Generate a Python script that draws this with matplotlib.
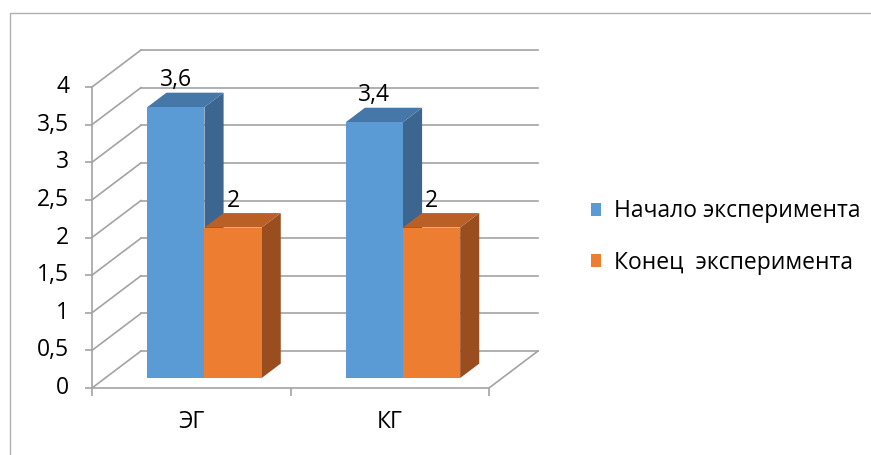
import matplotlib
matplotlib.use('Agg')
import matplotlib.pyplot as plt
from matplotlib.patches import Polygon, Patch
from matplotlib.lines import Line2D

categories = ['ЭГ', 'КГ']
series_names = ['Начало эксперимента', 'Конец  эксперимента']
start_values = [3.6, 3.4]
end_values = [2, 2]
value_labels_start = ['3,6', '3,4']
value_labels_end = ['2', '2']
y_ticks = [0, 0.5, 1, 1.5, 2, 2.5, 3, 3.5, 4]
y_tick_labels = ['0', '0,5', '1', '1,5', '2', '2,5', '3', '3,5', '4']

plt.rcParams['font.family'] = ['Open Sans', 'DejaVu Sans']

W, H, DPI = 871, 455, 100
fig = plt.figure(figsize=(W / DPI, H / DPI), dpi=DPI)
fig.patch.set_facecolor('white')

ax = fig.add_axes([92 / W, 1 - 388 / H, (489 - 92) / W, (388 - 87) / H])
ax.set_xlim(0, 2)
ax.set_ylim(0, 4)
ax.axis('off')

# depth projection (data units for full depth)
DXD = 49 / ((489 - 92) / 2)
DYD = 37 / ((388 - 87) / 4)


def proj(x, v, d):
    return (x + d * DXD, v + d * DYD)


GRID = '#a3a3a3'
LW = 1.2
FS = 16.5

# back wall gridlines and left wall diagonals
for v in y_ticks:
    p0 = proj(0, v, 1)
    p1 = proj(2, v, 1)
    ax.plot([p0[0], p1[0]], [p0[1], p1[1]], color=GRID, lw=LW, clip_on=False, zorder=1)
    q0 = proj(0, v, 0)
    ax.plot([q0[0], p0[0]], [q0[1], p0[1]], color=GRID, lw=LW, clip_on=False, zorder=1)

# floor front edge and right edge
a = proj(0, 0, 0)
b = proj(2, 0, 0)
c = proj(2, 0, 1)
ax.plot([a[0], b[0], c[0]], [a[1], b[1], c[1]], color=GRID, lw=LW, clip_on=False, zorder=1)
# vertical axis
t = proj(0, 4, 0)
ax.plot([a[0], t[0]], [a[1], t[1]], color=GRID, lw=LW, clip_on=False, zorder=1)
# y ticks
for v, lab in zip(y_ticks, y_tick_labels):
    p = proj(0, v, 0)
    ax.plot([p[0]], [p[1]], marker=0, markersize=5, color=GRID, mew=LW, clip_on=False, zorder=1)
    ax.annotate(lab, xy=p, xytext=(-23, 0), textcoords='offset pixels',
                ha='right', va='center', fontsize=FS, color='black')
# x ticks
for j in range(len(categories) + 1):
    p = proj(j, 0, 0)
    ax.plot([p[0]], [p[1]], marker=3, markersize=6, color=GRID, mew=LW, clip_on=False, zorder=1)
for j, cat in enumerate(categories):
    p = proj(j + 0.5, 0, 0)
    ax.annotate(cat, xy=p, xytext=(0, -34), textcoords='offset pixels',
                ha='center', va='center', fontsize=FS, color='black')

# bars
BW = 0.288
D0, D1 = 0.27, 0.66
colors = [('#5B9BD5', '#4677A9', '#3C6690'), ('#ED7D31', '#BA6027', '#9A4D1E')]
series = [start_values, end_values]
labels = [value_labels_start, value_labels_end]
z = 2
for j in range(len(categories)):
    for i, vals in enumerate(series):
        v = vals[j]
        x0 = j + 0.5 - BW + i * BW
        x1 = x0 + BW
        front, top, side = colors[i]
        side_pts = [proj(x1, 0, D0), proj(x1, v, D0), proj(x1, v, D1), proj(x1, 0, D1)]
        top_pts = [proj(x0, v, D0), proj(x1, v, D0), proj(x1, v, D1), proj(x0, v, D1)]
        front_pts = [proj(x0, 0, D0), proj(x1, 0, D0), proj(x1, v, D0), proj(x0, v, D0)]
        ax.add_patch(Polygon(side_pts, closed=True, facecolor=side, edgecolor='none', zorder=z, clip_on=False))
        ax.add_patch(Polygon(top_pts, closed=True, facecolor=top, edgecolor='none', zorder=z, clip_on=False))
        ax.add_patch(Polygon(front_pts, closed=True, facecolor=front, edgecolor='none', zorder=z + 0.5, clip_on=False))
        z += 1
        ax.annotate(labels[i][j], xy=proj((x0 + x1) / 2, v, D0), xytext=(0, 27),
                    textcoords='offset pixels', ha='center', va='center',
                    fontsize=FS, color='black', zorder=20)

handles = [Patch(facecolor=colors[0][0], edgecolor='none'),
           Patch(facecolor=colors[1][0], edgecolor='none')]
fig.legend(handles, series_names, loc='center left', bbox_to_anchor=(591 / W, 1 - 237 / H),
           frameon=False, fontsize=FS, handlelength=0.44, handleheight=0.5,
           handletextpad=0.55, labelspacing=1.2, borderpad=0, borderaxespad=0)

# chart frame
fig.add_artist(Line2D([10 / W, 10 / W, 1.01], [-0.01, 1 - 13 / H, 1 - 13 / H],
                      transform=fig.transFigure, color='#b0b0b0', lw=1))

fig.savefig('out.png', dpi=DPI, facecolor='white')
